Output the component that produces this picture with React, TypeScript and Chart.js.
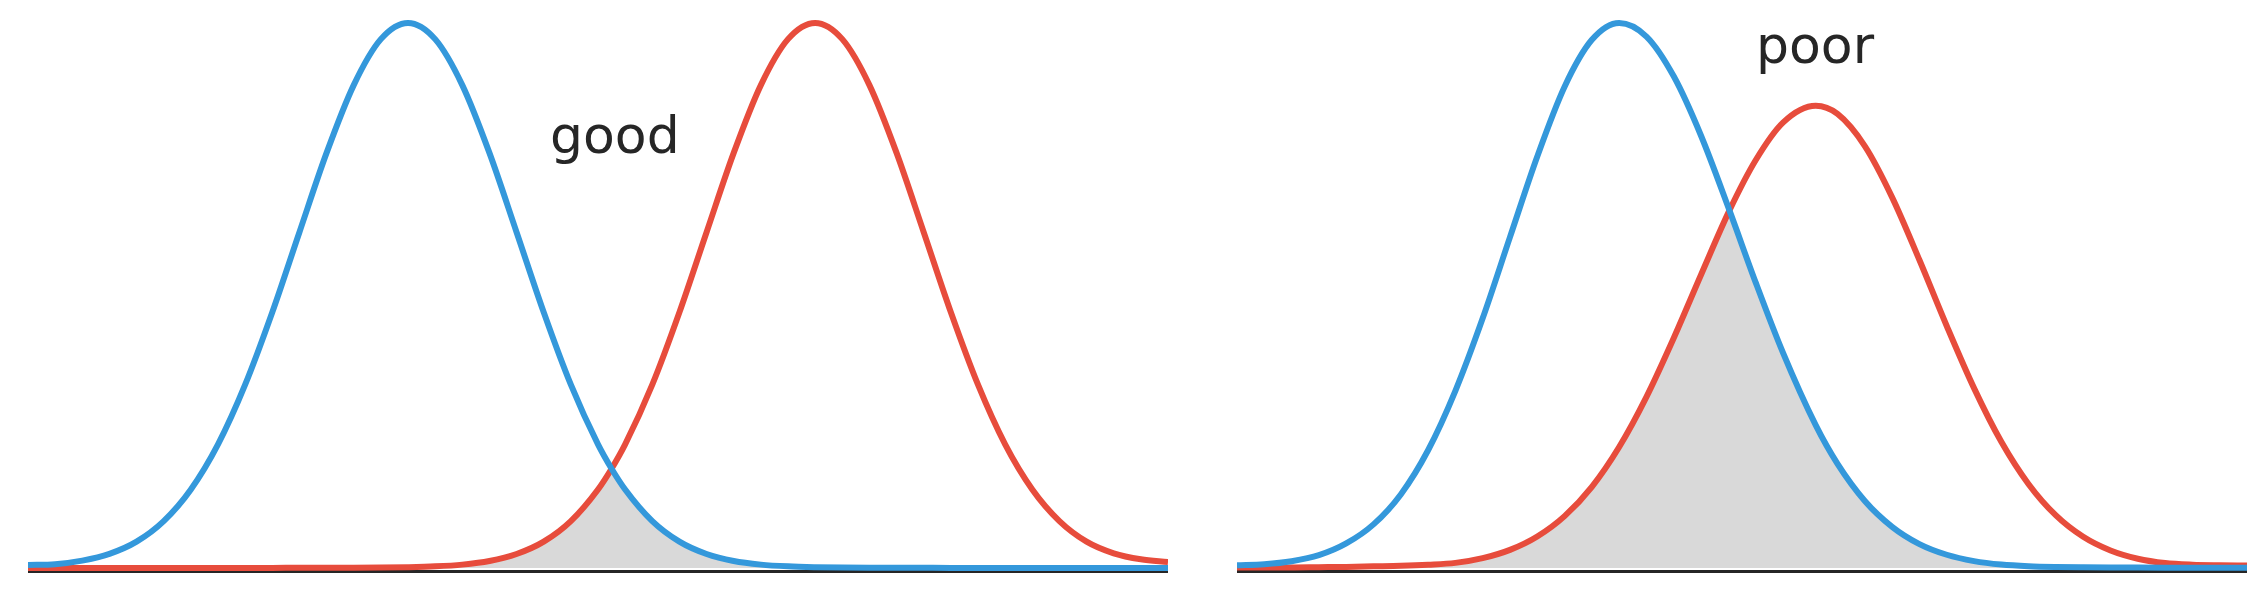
import React, { useEffect, useRef } from "react";
import { Chart, registerables } from "chart.js";

Chart.register(...registerables);

// ---------- data ----------
const goodX = [
  -3.5, -3.25, -3, -2.75, -2.5, -2.25, -2, -1.75, -1.5, -1.25, -1, -0.75, -0.5, -0.25,
  0, 0.25, 0.5, 0.75, 1, 1.25, 1.5, 1.75, 1.875, 2, 2.25, 2.5, 2.75, 3, 3.25, 3.5,
  3.75, 4, 4.25, 4.5, 4.75, 5, 5.25, 5.5, 5.75, 6, 6.25, 6.5, 6.75, 7,
];
const goodBlue = [
  0.0055, 0.007, 0.0135, 0.026, 0.0484, 0.0861, 0.1441, 0.2268, 0.3363, 0.4692, 0.6161, 0.7615, 0.8859, 0.9702,
  1, 0.9702, 0.8859, 0.7615, 0.6161, 0.4692, 0.3363, 0.2268, 0.1822, 0.1441, 0.0861, 0.0484, 0.0257, 0.0128, 0.0062, 0.003,
  0.0015, 0.0008, 0.0005, 0.0004, 0.0003, 0.0002, 0.0002, 0.0001, 0.0001, 0.0001, 0, 0, 0, 0,
];
const goodRed = [
  0, 0, 0, 0, 0, 0, 0, 0.0001, 0.0001, 0.0002, 0.0003, 0.0004, 0.0005, 0.0008,
  0.0015, 0.003, 0.0062, 0.0128, 0.0257, 0.0484, 0.0861, 0.1441, 0.1822, 0.2268, 0.3363, 0.4692, 0.6161, 0.7615, 0.8859, 0.9702,
  1, 0.9702, 0.8859, 0.7615, 0.6161, 0.4692, 0.3363, 0.2268, 0.1441, 0.0861, 0.0484, 0.027, 0.016, 0.011,
];
const goodLabel = "good";

const poorX = [
  -3.5, -3.25, -3, -2.75, -2.5, -2.25, -2, -1.75, -1.5, -1.25, -1, -0.75, -0.5, -0.25,
  0, 0.25, 0.5, 0.75, 1.01, 1.25, 1.5, 1.8, 2, 2.25, 2.5, 2.75, 3, 3.25, 3.5, 3.75,
  4, 4.25, 4.5, 4.75, 5, 5.25, 5.5, 5.75,
];
const poorBlue = [
  0.005, 0.007, 0.0125, 0.0235, 0.045, 0.08, 0.135, 0.216, 0.325, 0.458, 0.607, 0.755, 0.883, 0.969,
  1, 0.975, 0.902, 0.793, 0.656, 0.524, 0.395, 0.262, 0.191, 0.123, 0.0756, 0.0439, 0.0243, 0.0127, 0.0063, 0.0032,
  0.0018, 0.0012, 0.0009, 0.0007, 0.0006, 0.0005, 0.0004, 0.0003,
];
const poorRed = [
  0.001, 0.001, 0.001, 0.0015, 0.002, 0.003, 0.004, 0.006, 0.0094, 0.0181, 0.0332, 0.0578, 0.0952, 0.149,
  0.222, 0.314, 0.422, 0.538, 0.656, 0.748, 0.817, 0.848, 0.833, 0.774, 0.68, 0.565, 0.444, 0.33, 0.2315, 0.1537,
  0.0964, 0.0572, 0.0321, 0.017, 0.009, 0.006, 0.005, 0.0045,
];
const poorLabel = "poor";

// ---------- styles ----------
const BLUE = "#3498db";
const RED = "#e74c3c";
const GRAY = "#d9d9d9";
const TEXT = "#262626";
const AXIS = "#262626";
const H = 595;
const LINE_W = 6;

const labelPlugin = {
  id: "panelLabel",
  afterDraw(chart: any, _args: any, opts: any) {
    if (!opts || !opts.text) return;
    const ctx = chart.ctx;
    ctx.save();
    ctx.font = opts.font;
    ctx.fillStyle = opts.color;
    ctx.textAlign = "left";
    ctx.textBaseline = "alphabetic";
    ctx.fillText(opts.text, opts.x, opts.y);
    ctx.restore();
  },
};

type PanelProps = {
  left: number;
  width: number;
  xs: number[];
  blue: number[];
  red: number[];
  xMin: number;
  xMax: number;
  label: string;
  labelX: number;
  labelY: number;
};

function Panel(p: PanelProps) {
  const ref = useRef<HTMLCanvasElement | null>(null);
  useEffect(() => {
    if (!ref.current) return;
    const bluePts = p.xs.map((x, i) => ({ x, y: p.blue[i] }));
    const redPts = p.xs.map((x, i) => ({ x, y: p.red[i] }));
    const overlap = p.xs.map((x, i) => ({ x, y: Math.min(p.blue[i], p.red[i]) }));
    const chart = new Chart(ref.current, {
      type: "line",
      data: {
        datasets: [
          {
            data: bluePts,
            borderColor: BLUE,
            borderWidth: LINE_W,
            fill: false,
            order: 1,
            pointRadius: 0,
            cubicInterpolationMode: "monotone",
          },
          {
            data: redPts,
            borderColor: RED,
            borderWidth: LINE_W,
            fill: false,
            order: 2,
            pointRadius: 0,
            cubicInterpolationMode: "monotone",
          },
          {
            data: overlap,
            borderColor: "rgba(0,0,0,0)",
            borderWidth: 0,
            backgroundColor: GRAY,
            fill: "origin",
            order: 3,
            pointRadius: 0,
            tension: 0,
          },
        ],
      },
      options: {
        animation: false,
        responsive: false,
        maintainAspectRatio: false,
        layout: { padding: { left: 0, right: 0, top: 0, bottom: 24 } },
        plugins: {
          legend: { display: false },
          tooltip: { enabled: false },
          panelLabel: {
            text: p.label,
            x: p.labelX,
            y: p.labelY,
            font: '52px "DejaVu Sans"',
            color: TEXT,
          },
        } as any,
        scales: {
          x: {
            type: "linear",
            min: p.xMin,
            max: p.xMax,
            display: true,
            ticks: { display: false },
            grid: { display: false, drawTicks: false },
            border: { display: true, color: AXIS, width: 3 },
          },
          y: {
            type: "linear",
            min: -0.0055,
            max: 1.042,
            display: false,
          },
        },
      },
      plugins: [labelPlugin],
    });
    return () => chart.destroy();
  }, []);
  return (
    <canvas
      ref={ref}
      width={p.width}
      height={H}
      style={{ position: "absolute", left: p.left, top: 0, width: p.width, height: H }}
    />
  );
}

export default function App() {
  return (
    <div style={{ position: "absolute", left: 0, top: 0, width: 2264, height: H, background: "#fff" }}>
      <Panel
        left={28}
        width={1140}
        xs={goodX}
        blue={goodBlue}
        red={goodRed}
        xMin={-3.5}
        xMax={7}
        label={goodLabel}
        labelX={522}
        labelY={153}
      />
      <Panel
        left={1237}
        width={1010}
        xs={poorX}
        blue={poorBlue}
        red={poorRed}
        xMin={-3.5}
        xMax={5.75}
        label={poorLabel}
        labelX={519}
        labelY={63}
      />
    </div>
  );
}
